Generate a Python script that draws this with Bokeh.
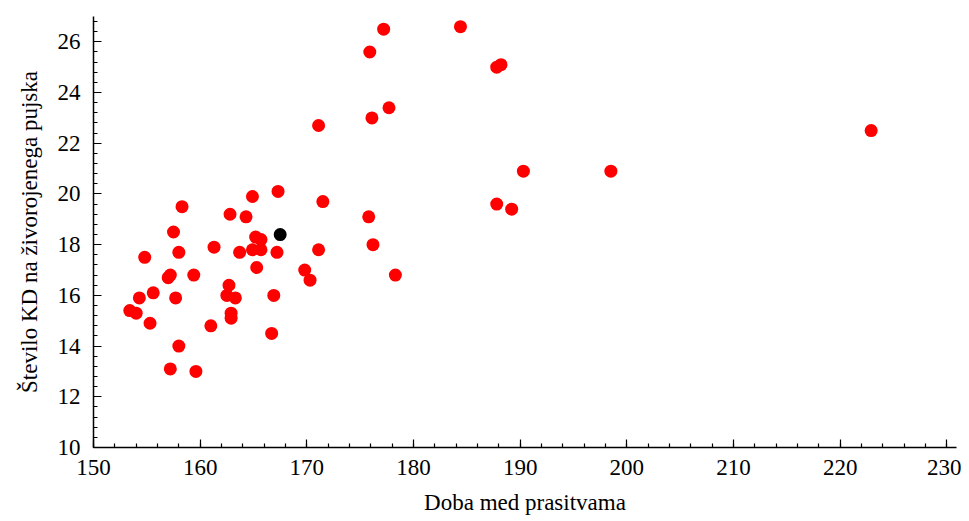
from bokeh.plotting import figure
from bokeh.models import Range1d, SingleIntervalTicker
from bokeh.embed import file_html
from bokeh.resources import INLINE

# Doba med prasitvama (x) and Število KD na živorojenega pujska (y)
doba = [153.4, 154.0, 154.3, 154.8, 155.3, 155.6, 157.2, 157.0, 157.2, 157.5,
        157.7, 158.0, 158.0, 158.3, 159.4, 159.6, 161.0, 161.3, 162.7, 162.5,
        162.8, 162.9, 162.9, 163.3, 163.7, 164.3, 164.9, 164.9, 165.2, 165.7,
        165.7, 165.3, 166.7, 166.9, 167.2, 167.3, 169.8, 170.3, 171.1, 171.1,
        171.5, 175.8, 175.9, 176.1, 176.2, 177.2, 177.7, 178.3, 184.4, 187.8,
        188.2, 187.8, 189.2, 190.3, 198.5, 222.9]
stevilo = [15.4, 15.3, 15.9, 17.5, 14.9, 16.1, 13.1, 16.7, 16.8, 18.5,
           15.9, 17.7, 14.0, 19.5, 16.8, 13.0, 14.8, 17.9, 16.4, 16.0,
           19.2, 15.3, 15.1, 15.9, 17.7, 19.1, 19.9, 17.8, 18.3, 18.2,
           17.8, 17.1, 14.5, 16.0, 17.7, 20.1, 17.0, 16.6, 22.7, 17.8,
           19.7, 19.1, 25.6, 23.0, 18.0, 26.5, 23.4, 16.8, 26.6, 25.0,
           25.1, 19.6, 19.4, 20.9, 20.9, 22.5]
# highlighted point
hl_doba = [167.5]
hl_stevilo = [18.4]

p = figure(width=961, height=518, output_backend="svg", toolbar_location=None,
           x_range=Range1d(150, 230.9), y_range=Range1d(10, 27),
           min_border_left=93, min_border_right=5, min_border_top=16,
           min_border_bottom=71)
p.outline_line_color = None
p.xgrid.grid_line_color = None
p.ygrid.grid_line_color = None
p.background_fill_color = "white"
p.border_fill_color = "white"

p.scatter(doba, stevilo, size=13, color="#ff0000", line_color=None)
p.scatter(hl_doba, hl_stevilo, size=13, color="black", line_color=None)

p.xaxis.ticker = SingleIntervalTicker(interval=10, num_minor_ticks=5)
p.yaxis.ticker = SingleIntervalTicker(interval=2, num_minor_ticks=5)
p.xaxis.axis_label = "Doba med prasitvama"
p.yaxis.axis_label = "Število KD na živorojenega pujska"

for axes in (p.xaxis, p.yaxis):
    axes.axis_line_color = "black"
    axes.axis_line_width = 1.5
    axes.major_tick_line_color = "black"
    axes.minor_tick_line_color = "black"
    axes.major_tick_line_width = 1.2
    axes.minor_tick_line_width = 1.2
    axes.major_tick_in = 8
    axes.major_tick_out = 0
    axes.minor_tick_in = 4
    axes.minor_tick_out = 0
    axes.major_label_text_font = "Liberation Serif"
    axes.major_label_text_font_size = "23px"
    axes.major_label_text_color = "black"
    axes.axis_label_text_font = "Liberation Serif"
    axes.axis_label_text_font_size = "23px"
    axes.axis_label_text_font_style = "normal"
    axes.axis_label_text_color = "black"

p.xaxis.major_label_standoff = 12
p.xaxis.axis_label_standoff = 12
p.yaxis.major_label_standoff = 13
p.yaxis.axis_label_standoff = 13

open("out.html", "w").write(file_html(p, INLINE))
